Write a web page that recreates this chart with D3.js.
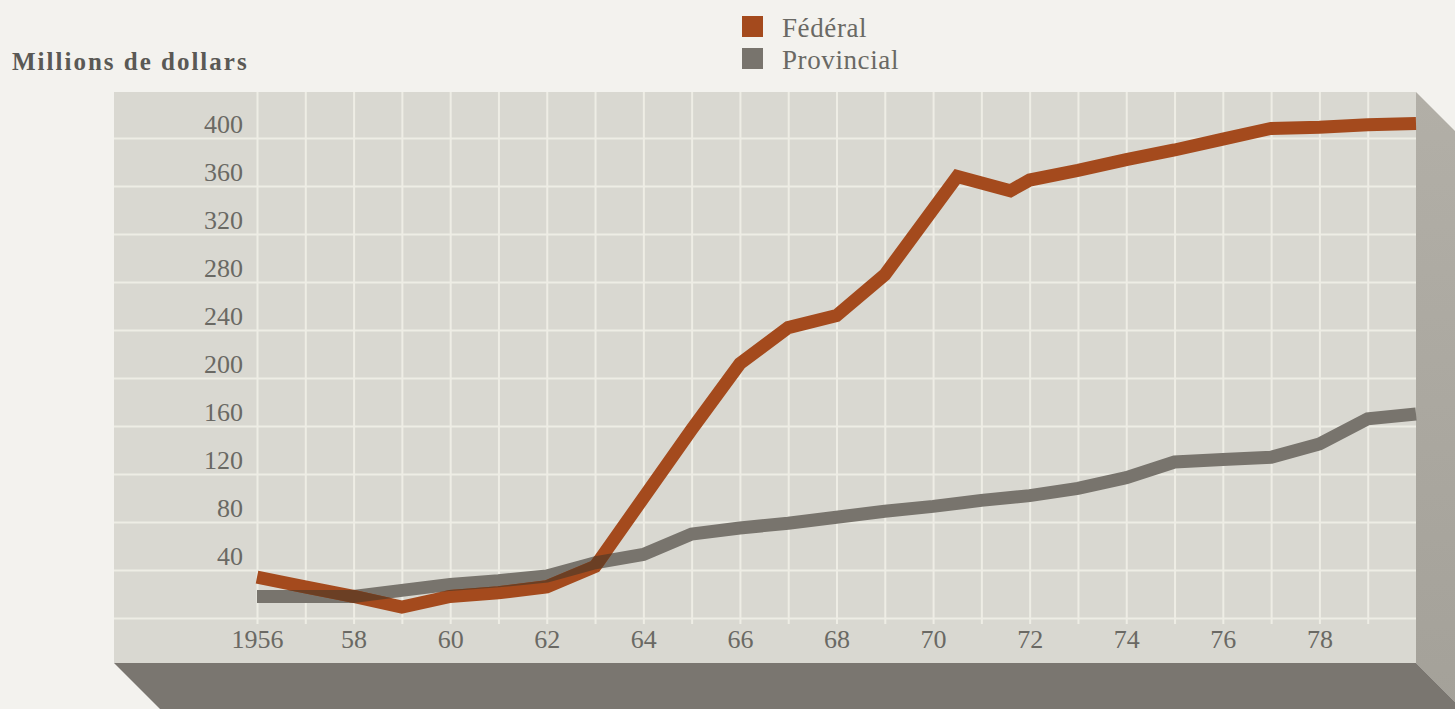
<!DOCTYPE html>
<html lang="fr">
<head>
<meta charset="utf-8">
<script src="https://cdn.jsdelivr.net/npm/d3@7"></script>
<style>
  html, body { margin: 0; padding: 0; background: #f3f2ee; }
  svg { display: block; }
  text { font-family: "Liberation Serif", "Times New Roman", serif; }
</style>
</head>
<body>
<svg id="chart" width="1455" height="709"></svg>
<script>
// Dépenses fédérales et provinciales, en millions de dollars
const federalYears  = [1956, 1957, 1958, 1959, 1960, 1961, 1962, 1963, 1964, 1965, 1966, 1967, 1968, 1969, 1970.5, 1971.6, 1972, 1973, 1974, 1975, 1976, 1977, 1978, 1979, 1980];
const federalValues = [34, 26, 18, 9, 18, 21, 26, 43, 100, 157, 212, 242, 252, 286, 368, 356, 365, 373, 382, 390, 399, 408, 409, 411, 412];

const provincialYears  = [1956, 1957, 1958, 1959, 1960, 1961, 1962, 1963, 1964, 1965, 1966, 1967, 1968, 1969, 1970, 1971, 1972, 1973, 1974, 1975, 1976, 1977, 1978, 1979, 1980];
const provincialValues = [18, 18, 18, 23, 28, 31, 35, 46, 53, 70, 75, 79, 84, 89, 93, 98, 102, 108, 117, 130, 132, 134, 145, 166, 170];

const yTickValues = [40, 80, 120, 160, 200, 240, 280, 320, 360, 400];
const yGridValues = [0, 40, 80, 120, 160, 200, 240, 280, 320, 360, 400];
const xGridYears  = d3.range(1956, 1980);
const xLabelYears = [1956, 1958, 1960, 1962, 1964, 1966, 1968, 1970, 1972, 1974, 1976, 1978];

const seriesNames = ["Fédéral", "Provincial"];
const seriesColors = { "Fédéral": "#a44a1d", "Provincial": "#78746d" };

const svg = d3.select("#chart");
const defs = svg.append("defs");

const x = d3.scaleLinear().domain([1956, 1980]).range([257, 1416]);
const y = d3.scaleLinear().domain([0, 400]).range([618, 138]);

// Panel box with its 3D sides
const panel = { left: 114, top: 92, right: x(1980), bottom: 663 };
const depth = 50;

const sideGrad = defs.append("linearGradient")
  .attr("id", "side").attr("x1", 0).attr("y1", 0).attr("x2", 0).attr("y2", 1);
sideGrad.append("stop").attr("offset", 0).attr("stop-color", "#b2afa7");
sideGrad.append("stop").attr("offset", 1).attr("stop-color", "#a4a199");

svg.append("polygon")
  .attr("points", [
    [panel.right, panel.top], [panel.right + depth, panel.top + depth],
    [panel.right + depth, panel.bottom + depth], [panel.right, panel.bottom]
  ].join(" "))
  .attr("fill", "url(#side)");

svg.append("polygon")
  .attr("points", [
    [panel.left, panel.bottom], [panel.right, panel.bottom],
    [panel.right + depth, panel.bottom + depth], [panel.left + depth, panel.bottom + depth]
  ].join(" "))
  .attr("fill", "#7a7670");

svg.append("rect")
  .attr("x", panel.left).attr("y", panel.top)
  .attr("width", panel.right - panel.left).attr("height", panel.bottom - panel.top)
  .attr("fill", "#d9d8d1");

// Horizontal grid + value labels
const yAxis = svg.append("g")
  .attr("transform", `translate(${panel.left},0)`)
  .call(d3.axisLeft(y).tickValues(yGridValues).tickSize(-(panel.right - panel.left)).tickPadding(0)
    .tickFormat(d => yTickValues.includes(d) ? d : ""));
yAxis.select(".domain").remove();
yAxis.selectAll(".tick line").attr("stroke", "#eeede5").attr("stroke-width", 2);
yAxis.selectAll(".tick text")
  .attr("x", 243 - panel.left).attr("dy", -6)
  .attr("text-anchor", "end")
  .attr("fill", "#6a6964").attr("font-size", 26);

// Vertical grid + year labels
const gridBottom = 624;
const xAxis = svg.append("g")
  .attr("transform", `translate(0,${gridBottom})`)
  .call(d3.axisBottom(x).tickValues(xGridYears).tickSize(-(gridBottom - panel.top)).tickPadding(0)
    .tickFormat(d => xLabelYears.includes(d) ? (d === 1956 ? "1956" : String(d % 100)) : ""));
xAxis.select(".domain").remove();
xAxis.selectAll(".tick line").attr("stroke", "#eeede5").attr("stroke-width", 2);
xAxis.selectAll(".tick text")
  .attr("y", 24).attr("dy", 0)
  .attr("fill", "#6a6964").attr("font-size", 26);

// Series lines
const line = d3.line().x(d => x(d[0])).y(d => y(d[1]));
const provincialPath = line(d3.zip(provincialYears, provincialValues));
const federalPath = line(d3.zip(federalYears, federalValues));

svg.append("path")
  .attr("d", provincialPath)
  .attr("fill", "none")
  .attr("stroke", seriesColors["Provincial"])
  .attr("stroke-width", 13)
  .attr("stroke-linejoin", "miter");

svg.append("path")
  .attr("d", federalPath)
  .attr("fill", "none")
  .attr("stroke", seriesColors["Fédéral"])
  .attr("stroke-width", 13)
  .attr("stroke-linejoin", "miter");

// Darker tone where the two translucent inks overlap
defs.append("mask")
  .attr("id", "provincialMask")
  .attr("maskUnits", "userSpaceOnUse")
  .attr("x", 0).attr("y", 0).attr("width", 1455).attr("height", 709)
  .append("path")
  .attr("d", provincialPath)
  .attr("fill", "none")
  .attr("stroke", "#fff")
  .attr("stroke-width", 13)
  .attr("stroke-linejoin", "miter");

svg.append("path")
  .attr("d", federalPath)
  .attr("fill", "none")
  .attr("stroke", "#6b3f24")
  .attr("stroke-width", 13)
  .attr("stroke-linejoin", "miter")
  .attr("mask", "url(#provincialMask)");

// Title
svg.append("text")
  .attr("x", 12).attr("y", 70)
  .attr("font-size", 25).attr("font-weight", "bold")
  .attr("letter-spacing", 2.0)
  .attr("fill", "#5a5955")
  .text("Millions de dollars");

// Legend
const legend = svg.append("g");
seriesNames.forEach((name, i) => {
  const g = legend.append("g").attr("transform", `translate(742,${16 + i * 32})`);
  g.append("rect").attr("width", 21).attr("height", 21).attr("fill", seriesColors[name]);
  g.append("text")
    .attr("x", 40).attr("y", 21)
    .attr("font-size", 27).attr("fill", "#6a6964")
    .attr("letter-spacing", 0.6)
    .text(name);
});
</script>
</body>
</html>
